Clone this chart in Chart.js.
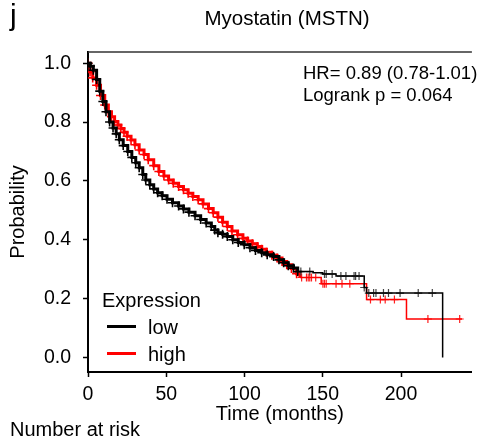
<!DOCTYPE html>
<html>
<head>
<meta charset="utf-8">
<script src="https://cdn.jsdelivr.net/npm/chart.js@4"></script>
<style>
  body { margin: 0; background: #fff; }
  #wrap { position: relative; width: 478px; height: 439px; overflow: hidden; font-family: "Liberation Sans", Arial, sans-serif; color: #000; }
  #wrap div.t { position: absolute; line-height: 1; white-space: nowrap; }
  .key { position: absolute; height: 3px; width: 29px; }
</style>
</head>
<body>
<div id="wrap">
  <canvas id="km" width="478" height="439"></canvas>
  <div class="t" style="left:10px; top:0px; font-size:30px;">j</div>
  <div class="t" style="left:0; width:574px; top:8px; font-size:20.5px; text-align:center;">Myostatin (MSTN)</div>
  <div class="t" style="left:303px; top:64px; font-size:18.5px;">HR= 0.89 (0.78-1.01)</div>
  <div class="t" style="left:303px; top:86px; font-size:18.5px;">Logrank p = 0.064</div>
  <div class="t" style="left:102px; top:290px; font-size:20px;">Expression</div>
  <div class="key" style="left:107px; top:325px; background:#000;"></div>
  <div class="t" style="left:148px; top:317px; font-size:20px;">low</div>
  <div class="key" style="left:107px; top:352px; background:#ff0000;"></div>
  <div class="t" style="left:148px; top:344px; font-size:20px;">high</div>
  <div class="t" style="left:10px; top:419px; font-size:20px;">Number at risk</div>
</div>
<script>
// low expression group (black)
var lowTime = [0, 1.5, 3.4, 5.5, 7.5, 9.5, 11.5, 13.8, 16, 18, 20, 22.5, 25.4, 28, 30.5,
  32.7, 35, 36.9, 39.5, 42, 44.5, 47.4, 50.5, 54, 57.9, 61, 64.5, 68.4, 72, 75.5,
  78.8, 81, 83, 86, 89, 92.5, 96, 99.8, 103.5, 107, 111, 114.5, 118.6, 122, 125,
  128, 131.3, 134, 143.8, 150, 158.5, 176.5, 178, 226.6];
var lowSurv = [1.0, 0.99, 0.976, 0.945, 0.905, 0.87, 0.835, 0.80, 0.78, 0.76, 0.74, 0.72, 0.70, 0.68, 0.662,
  0.645, 0.622, 0.603, 0.587, 0.573, 0.56, 0.55, 0.538, 0.526, 0.515, 0.505, 0.494, 0.482, 0.469, 0.457,
  0.445, 0.433, 0.424, 0.419, 0.411, 0.40, 0.391, 0.383, 0.373, 0.364, 0.356, 0.349, 0.343, 0.332, 0.322,
  0.312, 0.304, 0.292, 0.288, 0.284, 0.277, 0.238, 0.219, 0];
var lowCensorTime = [136, 141.7, 151.1, 152.2, 156, 161.6, 164.8, 170, 171, 173.2, 176.5, 179.4, 182.5, 184, 188.8, 192, 199.4, 211, 220];
var lowCensorSurv = [0.292, 0.292, 0.284, 0.284, 0.284, 0.277, 0.277, 0.277, 0.277, 0.277, 0.238, 0.219, 0.219, 0.219, 0.219, 0.219, 0.219, 0.219, 0.219];

// high expression group (red)
var highTime = [0, 1.3, 3, 5.5, 8, 10.7, 13, 15, 17, 19.1, 21, 23, 25, 27.5, 30,
  32.7, 35.8, 38.5, 42, 45.3, 48.5, 51.5, 54.5, 57.9, 61, 64, 67, 70.4, 73.5, 77,
  80, 83, 86, 89, 92, 95.6, 99, 102, 105, 108.2, 111, 114, 117.5, 120.8, 124,
  127, 130, 133.3, 135.4, 149, 178, 203.5, 239];
var highSurv = [1.0, 0.97, 0.95, 0.925, 0.89, 0.858, 0.835, 0.818, 0.802, 0.79, 0.778, 0.765, 0.752, 0.739, 0.723,
  0.705, 0.69, 0.672, 0.652, 0.632, 0.617, 0.603, 0.592, 0.581, 0.57, 0.558, 0.547, 0.536, 0.522, 0.506,
  0.492, 0.477, 0.46, 0.445, 0.43, 0.417, 0.405, 0.396, 0.387, 0.377, 0.368, 0.358, 0.348, 0.338, 0.326,
  0.315, 0.303, 0.285, 0.272, 0.251, 0.197, 0.131, 0.131];
var highCensorTime = [136.5, 139.6, 140.7, 141.7, 142.8, 145.5, 150.1, 151.1, 152.2, 158.5, 162.3, 167.3, 180.5, 186.8, 189.9, 195.8, 217.2, 237.5];
var highCensorSurv = [0.272, 0.272, 0.272, 0.272, 0.272, 0.272, 0.251, 0.251, 0.251, 0.251, 0.251, 0.251, 0.197, 0.197, 0.197, 0.197, 0.131, 0.131];

var xTicks = [0, 50, 100, 150, 200];
var yTicks = [0, 0.2, 0.4, 0.6, 0.8, 1.0];

// the early part of each curve is a dense band of censor crosses
var denseUntil = 134;

function pts(xs, ys) {
  return xs.map((x, i) => ({ x: x, y: ys[i] }));
}

function kmLine(time, surv, color) {
  return {
    data: pts(time, surv),
    stepped: "before",
    borderColor: color,
    borderWidth: 1.5,
    segment: { borderWidth: c => (c.p0.parsed.x < denseUntil ? 3 : 1.5) },
    pointStyle: "cross",
    pointRadius: c => (time[c.dataIndex] <= denseUntil ? 4.5 : 0),
    pointBorderColor: color,
    pointBorderWidth: 1.6,
  };
}

function censors(time, surv, color) {
  return {
    type: "scatter",
    data: pts(time, surv),
    showLine: false,
    pointStyle: "cross",
    pointRadius: 4,
    borderColor: color,
    borderWidth: 1.2,
  };
}

var topBorder = {
  id: "topBorder",
  afterDraw(chart) {
    var a = chart.chartArea, ctx = chart.ctx;
    ctx.save();
    ctx.strokeStyle = "#333";
    ctx.lineWidth = 1.5;
    ctx.beginPath();
    ctx.moveTo(a.left, a.top);
    ctx.lineTo(a.right, a.top);
    ctx.stroke();
    ctx.restore();
  }
};

var font = { family: "'Liberation Sans', Arial, sans-serif" };

new Chart(document.getElementById("km"), {
  type: "line",
  data: {
    datasets: [
      kmLine(lowTime, lowSurv, "#000"),
      censors(lowCensorTime, lowCensorSurv, "#444"),
      kmLine(highTime, highSurv, "#ff0000"),
      censors(highCensorTime, highCensorSurv, "#ff2020"),
    ],
  },
  options: {
    responsive: false,
    animation: false,
    devicePixelRatio: 1,
    layout: { padding: { top: 52, right: 0, bottom: 0, left: 0 } },
    plugins: { legend: { display: false }, tooltip: { enabled: false } },
    scales: {
      x: {
        type: "linear",
        min: 0,
        max: 245.3,
        afterBuildTicks: s => { s.ticks = xTicks.map(v => ({ value: v })); },
        afterFit: s => { s.height = 67; },
        ticks: { color: "#000", font: { ...font, size: 19.5 }, padding: 6, callback: v => String(v) },
        grid: { drawOnChartArea: false, tickLength: 5, tickWidth: 1.5, tickColor: "#000" },
        border: { color: "#000", width: 2 },
        title: { display: true, text: "Time (months)", color: "#000", font: { ...font, size: 20 }, padding: { top: 0, bottom: 13 } },
      },
      y: {
        type: "linear",
        min: -0.049,
        max: 1.038,
        afterBuildTicks: s => { s.ticks = yTicks.map(v => ({ value: v })); },
        afterFit: s => { s.width = 88; },
        ticks: { color: "#000", font: { ...font, size: 19.5 }, padding: 12, callback: v => v.toFixed(1) },
        grid: { drawOnChartArea: false, tickLength: 5, tickWidth: 1.5, tickColor: "#000" },
        border: { color: "#000", width: 2 },
        title: { display: true, text: "Probability", color: "#000", font: { ...font, size: 20 }, padding: { top: 6, bottom: 0 } },
      },
    },
  },
  plugins: [topBorder],
});
</script>
</body>
</html>
